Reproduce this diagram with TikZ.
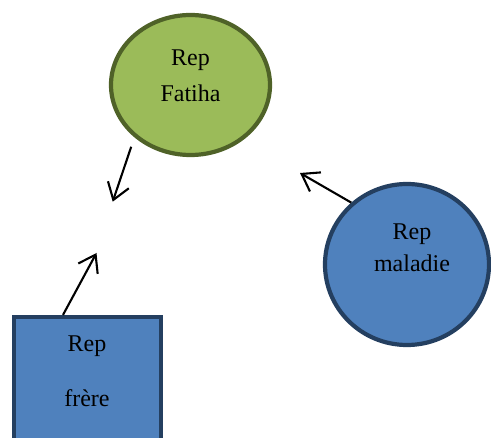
\documentclass[tikz,border=0pt]{standalone}
\usepackage{fontspec}
\setmainfont{Liberation Serif}
\usetikzlibrary{arrows.meta,shapes.geometric}
\definecolor{fatihafill}{HTML}{9BBB59}
\definecolor{fatihaline}{HTML}{4F6228}
\definecolor{repfill}{HTML}{4F81BD}
\definecolor{repline}{HTML}{243F60}
\begin{document}
\begin{tikzpicture}[x=1pt,y=-1pt,
  shapebox/.style={line width=4.2pt, inner sep=0pt},
  lbl/.style={anchor=base, inner sep=0pt, font=\fontsize{24}{28}\selectfont},
  link/.style={line width=2.1pt, -{Straight Barb[length=16pt,width=22pt,line width=2.1pt]}}
]
\useasboundingbox (0,0) rectangle (491,438);
\clip (0,0) rectangle (491,438);

% the three shapes
\node[shapebox, ellipse, draw=fatihaline, fill=fatihafill,
      minimum width=159pt, minimum height=140pt] (fatiha) at (190.5,85) {};
\node[shapebox, ellipse, draw=repline, fill=repfill,
      minimum width=164pt, minimum height=161pt] (maladie) at (407,264.5) {};
\node[shapebox, rectangle, draw=repline, fill=repfill,
      minimum width=147pt, minimum height=140pt] (frere) at (87.5,387) {};

% labels
\node[lbl] (fatihaA) at (190.5,66) {Rep};
\node[lbl] (fatihaB) at (190.5,102) {Fatiha};
\node[lbl] (maladieA) at (412,240) {Rep};
\node[lbl] (maladieB) at (412,272) {maladie};
\node[lbl] (frereA) at (87,352) {Rep};
\node[lbl] (frereB) at (87,407) {frère};

% arrows pointing into the empty middle
\coordinate (tipA) at (112.7,201.7);
\coordinate (tipB) at (300,173);
\coordinate (tipC) at (96.5,253);
\draw[link, shorten <=10pt] (fatiha.223.6) -- (tipA);
\draw[link] (maladie.132.7) -- (tipB);
\draw[link] ([xshift=-24.5pt]frere.north) -- (tipC);
\end{tikzpicture}
\end{document}
